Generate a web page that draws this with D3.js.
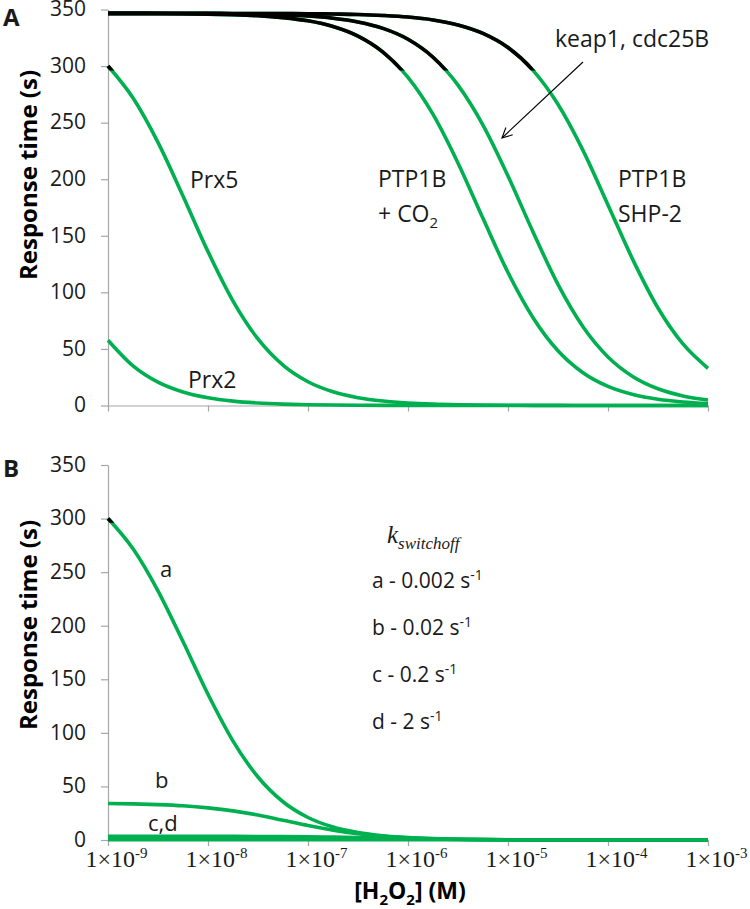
<!DOCTYPE html>
<html><head><meta charset="utf-8">
<script src="https://cdn.jsdelivr.net/npm/d3@7/dist/d3.min.js"></script>
<style>body{margin:0;background:#fff} svg{display:block}</style>
</head><body>
<svg id="chart" width="750" height="909"></svg>
<script>
// ---- data ----
const concM = [1e-9,1.78e-9,3.16e-9,5.62e-9,1e-8,1.78e-8,3.16e-8,5.62e-8,1e-7,1.78e-7,3.16e-7,5.62e-7,
               1e-6,1.78e-6,3.16e-6,5.62e-6,1e-5,1.78e-5,3.16e-5,5.62e-5,1e-4,1.78e-4,3.16e-4,5.62e-4,1e-3];
// Panel A
const prx2     = [57.7,35.0,20.6,11.9,6.78,3.85,2.17,1.23,0.69,0.39,0.22,0.12,0.07,0.04,0.02,0.01,0.01,0,0,0,0,0,0,0,0];
const prx5     = [300.1,271.8,232.6,185.2,136.0,92.3,58.8,35.7,21.0,12.1,6.93,3.93,2.22,1.25,0.71,0.40,0.22,0.13,0.07,0.04,0.02,0.01,0.01,0,0];
const ptp1bCO2 = [346.5,346.5,346.4,346.2,345.9,345.4,344.5,342.8,340.0,335.0,326.5,312.4,290.0,257.3,214.4,165.4,117.5,77.6,48.4,29.0,16.9,9.72,5.53,3.13,1.77];
const keap1    = [346.6,346.6,346.5,346.5,346.4,346.2,345.8,345.2,344.2,342.3,339.0,333.3,323.7,307.8,283.2,247.9,202.9,153.4,107.0,69.6,42.9,25.5,14.8,8.49,4.83];
const shp2     = [346.6,346.6,346.6,346.6,346.6,346.5,346.5,346.4,346.3,346.0,345.6,344.7,343.3,340.8,336.4,328.9,316.4,296.2,266.2,225.5,177.3,128.5,86.2,54.4,32.9];
// Panel B (k_switchoff a-d)
const kA = [300.1,271.8,232.6,185.2,136.0,92.3,58.8,35.7,21.0,12.1,6.93,3.93,2.22,1.25,0.71,0.40,0.22,0.13,0.07,0.04,0.02,0.01,0.01,0,0];
const kB = [34.1,33.7,33.0,31.9,30.0,27.2,23.3,18.5,13.6,9.23,5.88,3.57,2.10,1.21,0.69,0.39,0.22,0.12,0.07,0.04,0.02,0.01,0.01,0,0];
const kC = [3.46,3.46,3.45,3.44,3.41,3.37,3.30,3.19,3.00,2.72,2.33,1.85,1.36,0.92,0.59,0.36,0.21,0.12,0.07,0.04,0.02,0.01,0.01,0,0];
const kD = [0.35,0.35,0.35,0.35,0.35,0.35,0.35,0.35,0.34,0.337,0.330,0.319,0.300,0.272,0.233,0.185,0.136,0.092,0.059,0.036,0.021,0.012,0.007,0.004,0.002];

const yTicks = [0,50,100,150,200,250,300,350];
const xTicks = [1e-9,1e-8,1e-7,1e-6,1e-5,1e-4,1e-3];
const xTickExp = ["-9","-8","-7","-6","-5","-4","-3"];
const legendRows = [["a - 0.002 s","-1"],["b - 0.02 s","-1"],["c - 0.2 s","-1"],["d - 2 s","-1"]];
const blackAbove = 296;

// ---- drawing ----
const svg = d3.select("#chart");
const GREEN = "#00b050", AXIS = "#a6a6a6", TXT = "#1a1a1a";
const SANS = "'Open Sans', sans-serif", SERIF = "'Liberation Serif', 'Times New Roman', serif";

const x = d3.scaleLog().domain([1e-9,1e-3]).range([108,708]);
const yA = d3.scaleLinear().domain([0,350]).range([405.5,9.5]);
const yB = d3.scaleLinear().domain([0,350]).range([840,465]);

const defs = svg.append("defs");
defs.append("marker").attr("id","arr").attr("viewBox","0 0 12 12").attr("refX",11).attr("refY",6)
  .attr("markerWidth",12).attr("markerHeight",12).attr("markerUnits","userSpaceOnUse").attr("orient","auto")
  .append("path").attr("d","M1,1 L11,6 L1,11").attr("fill","none").attr("stroke","#000").attr("stroke-width",1.1);

function panel(id, y, series, labelled){
  const g = svg.append("g");
  const ya = g.append("g").attr("transform",`translate(${x.range()[0]},0)`)
    .call(d3.axisLeft(y).tickValues(yTicks).tickSize(7).tickSizeOuter(0).tickPadding(15));
  const xa = g.append("g").attr("transform",`translate(0,${y(0)})`)
    .call(d3.axisBottom(x).tickValues(xTicks).tickSize(6).tickSizeOuter(0).tickFormat(""));
  [ya,xa].forEach(a=>{
    a.select(".domain").attr("stroke",AXIS).attr("stroke-width",1.2);
    a.selectAll(".tick line").attr("stroke",AXIS).attr("stroke-width",1.2);
  });
  ya.selectAll(".tick text").attr("font-family",SANS).attr("font-size",21).attr("fill",TXT).attr("dy","0.3em");
  if(labelled){
    xa.selectAll(".tick").each(function(d,i){
      const t = d3.select(this).append("text").attr("x",8).attr("y",27)
        .attr("text-anchor","middle").attr("font-family",SERIF).attr("font-size",24).attr("fill",TXT);
      t.append("tspan").text("1\u00d710");
      t.append("tspan").attr("dy",-9).attr("font-size",15).text(xTickExp[i]);
    });
  }
  const cid = "clip"+id;
  defs.append("clipPath").attr("id",cid).append("rect")
    .attr("x",x.range()[0]-5).attr("y",y(370)).attr("width",x.range()[1]-x.range()[0]+10)
    .attr("height",y(blackAbove)-y(370));
  const line = d3.line().x((d,i)=>x(concM[i])).y(d=>y(d)).curve(d3.curveMonotoneX);
  const lg = g.append("g").attr("fill","none").attr("stroke-width",3.6).attr("stroke-linejoin","round");
  series.forEach(s=>lg.append("path").attr("d",line(s)).attr("stroke",GREEN));
  const bg = g.append("g").attr("clip-path",`url(#${cid})`).attr("fill","none").attr("stroke-width",3.6);
  series.forEach(s=>bg.append("path").attr("d",line(s)).attr("stroke","#000"));
  return g;
}

panel("A", yA, [prx2, prx5, ptp1bCO2, keap1, shp2], false);
panel("B", yB, [kD, kC, kB, kA], true);

function txt(xp, yp, s, opts={}){
  return svg.append("text").attr("x",xp).attr("y",yp).attr("font-family",opts.family||SANS)
    .attr("font-size",opts.size||23).attr("font-weight",opts.weight||"normal")
    .attr("fill",TXT).attr("text-anchor",opts.anchor||"start").text(s);
}

txt(3,26,"A",{size:24,weight:"bold"});
txt(3,477,"B",{size:24,weight:"bold"});

[175, 625].forEach(cy=>{
  svg.append("text").attr("transform",`translate(37,${cy}) rotate(-90)`).attr("text-anchor","middle")
    .attr("font-family",SANS).attr("font-weight","bold").attr("font-size",24).attr("fill","#000")
    .text("Response time (s)");
});

const xt = svg.append("text").attr("x",410).attr("y",899).attr("text-anchor","middle")
  .attr("font-family",SANS).attr("font-weight","bold").attr("font-size",23).attr("fill","#000");
xt.append("tspan").text("[H");
xt.append("tspan").attr("dy",6).attr("font-size",15).text("2");
xt.append("tspan").attr("dy",-6).text("O");
xt.append("tspan").attr("dy",6).attr("font-size",15).text("2");
xt.append("tspan").attr("dy",-6).text("] (M)");

txt(190,188,"Prx5");
txt(188,388,"Prx2");
txt(378,187,"PTP1B");
const co2 = txt(378,222,"+ CO");
co2.append("tspan").attr("dy",6).attr("font-size",15).text("2");
txt(618,187,"PTP1B");
txt(618,222,"SHP-2");
txt(555,47,"keap1, cdc25B");
svg.append("line").attr("x1",583).attr("y1",62).attr("x2",502).attr("y2",138)
  .attr("stroke","#000").attr("stroke-width",1.1).attr("marker-end","url(#arr)");

txt(160,577,"a",{size:22});
txt(155,788,"b",{size:22});
txt(148,831,"c,d",{size:22});
const k = svg.append("text").attr("x",387).attr("y",543).attr("font-family",SERIF).attr("font-style","italic")
  .attr("font-size",25).attr("fill",TXT);
k.append("tspan").text("k");
k.append("tspan").attr("dy",6).attr("font-size",17).text("switchoff");
legendRows.forEach((r,i)=>{
  const t = txt(372,588+i*47,r[0],{size:21});
  t.append("tspan").attr("dy",-8).attr("font-size",14).text(r[1]);
});
</script>
</body></html>
